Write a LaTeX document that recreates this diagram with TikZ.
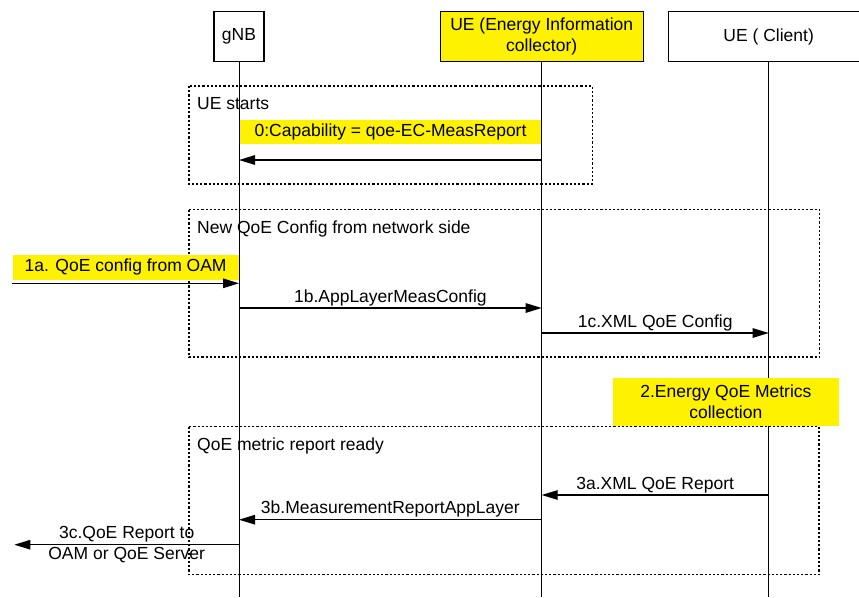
\documentclass[tikz,border=0pt]{standalone}
\usepackage{fontspec}
\setmainfont{Liberation Sans}
\usetikzlibrary{arrows.meta,positioning}

\begin{document}
\begin{tikzpicture}[x=1pt, y=-1pt,
    font=\fontsize{17.5}{21}\selectfont,
    actor/.style={rectangle, draw, line width=1.2pt, minimum height=50pt, align=center, inner sep=0pt},
    lifeline/.style={line width=1pt},
    msg/.style={line width=1.2pt, -{Triangle[length=16pt, width=9.5pt]}},
    group/.style={draw, line width=1.5pt, dash pattern=on 2.2pt off 2pt},
    grouptitle/.style={anchor=base west, inner sep=0pt},
    note/.style={rectangle, fill=yellow, inner sep=0pt, align=center, anchor=north west},
    msglabel/.style={above, inner sep=1.5pt}
]
    \useasboundingbox (0,0) rectangle (859,597);
    \clip (0,0) rectangle (859,597);

    % Participants
    \node[actor, minimum width=50pt] (gnb) at (239,36.7) {gNB};
    \node[actor, fill=yellow, minimum width=203pt] (eic) at (541.7,36.7) {UE (Energy Information\\collector)};
    \node[actor, minimum width=201pt] (client) at (768.7,36.7) {UE ( Client)};

    % Lifelines
    \coordinate (bottom) at (0,597);
    \draw[lifeline] (gnb.south) -- (gnb.south |- bottom);
    \draw[lifeline] (eic.south) -- (eic.south |- bottom);
    \draw[lifeline] (client.south) -- (client.south |- bottom);

    % Message rows on the lifelines
    \foreach \n/\y in {0/160, 1a/283.3, 1b/308, 1c/333, 3a/495, 3b/519.7, 3c/544.7} {
        \coordinate (g\n) at (239,\y);
        \coordinate (e\n) at (541.7,\y);
        \coordinate (c\n) at (768.7,\y);
    }
    \coordinate (oam1a) at (11.7,283.3);
    \coordinate (oam3c) at (14.3,544.7);

    % Groups
    \draw[group] (189,86) rectangle (592.3,184);
    \node[grouptitle] (start) at (197,109.3) {UE starts};
    \draw[group] (189,209.7) rectangle (819.7,357);
    \node[grouptitle] (config) at (197,233.3) {New QoE Config from network side};
    \draw[group] (189,426.5) rectangle (819.2,574.5);
    \node[grouptitle] (ready) at (197,450.5) {QoE metric report ready};

    % Highlighted notes
    \node[note, minimum width=301.7pt, minimum height=24pt] (cap) at (239.5,119.3) {0:Capability = qoe-EC-MeasReport};
    \node[note, minimum width=226.2pt, minimum height=24.3pt] (oamcfg) at (12.3,255) {1a. QoE config from OAM};
    \node[note, minimum width=226.7pt, minimum height=48.4pt] (collect) at (612.3,377.3) {2.Energy QoE Metrics\\collection};

    % Step 0
    \draw[msg] (e0) -- (g0);

    % Step 1: configuration
    \draw[msg] (oam1a) -- (g1a);
    \draw[msg] (g1b) -- node[msglabel] {1b.AppLayerMeasConfig} (e1b);
    \draw[msg] (e1c) -- node[msglabel] {1c.XML QoE Config} (c1c);

    % Step 3: reporting
    \draw[msg] (c3a) -- node[msglabel] {3a.XML QoE Report} (e3a);
    \draw[msg] (e3b) -- node[msglabel] {3b.MeasurementReportAppLayer} (g3b);
    \draw[msg] (g3c) -- node[align=center, inner sep=0pt] {3c.QoE Report to\\OAM or QoE Server} (oam3c);
\end{tikzpicture}
\end{document}
